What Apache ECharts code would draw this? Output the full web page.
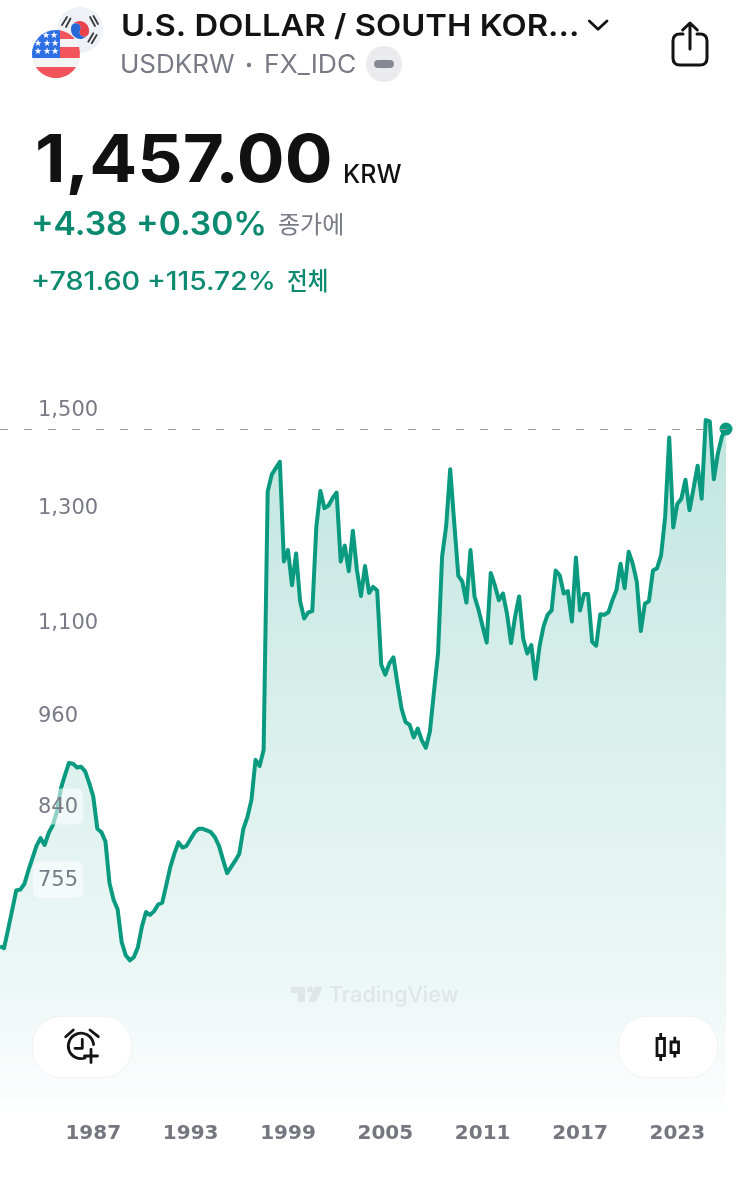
<!DOCTYPE html>
<html><head><meta charset="utf-8">
<style>html,body{margin:0;padding:0;background:#fff}#c{width:749px;height:1183px}</style>
<script src="https://cdn.jsdelivr.net/npm/echarts@6/dist/echarts.min.js"></script>
</head><body><div id="c"></div>
<script>
const firstYear = 1981, firstQuarter = 2;
const prices = [685,683,702,722,743,744,750,765,779,793,802,794,808,817,833,862,879,895,894,889,
890,884,869,852,813,809,798,751,733,723,689,676,671,674,684,705,720,717,721,728,
730,749,769,784,797,791,793,801,809,813,813,811,809,803,793,777,762,769,776,784,
813,827,848,899,891,912,1330,1363,1376,1389,1201,1221,1160,1215,1133,1105,1115,1117,1264,1331,
1298,1303,1317,1328,1201,1229,1184,1256,1186,1142,1193,1147,1157,1151,1033,1018,1035,1044,1005,969,
950,946,929,941,925,915,937,993,1050,1209,1264,1374,1270,1176,1166,1131,1221,1141,1119,1092,
1067,1181,1160,1135,1146,1113,1066,1108,1141,1073,1050,1063,1012,1060,1092,1111,1118,1185,1177,1146,
1150,1100,1208,1118,1145,1145,1068,1062,1112,1111,1115,1135,1152,1197,1155,1218,1197,1166,1085,1129,
1133,1185,1189,1212,1282,1439,1262,1306,1316,1353,1294,1336,1381,1316,1476,1473,1354,1406,1441,1457];
const categories = [];
for (let i = 0, y = firstYear, q = firstQuarter; i < prices.length; i++) {
  categories.push(y + ' Q' + q);
  if (++q > 4) { q = 1; y++; }
}
const yearTicks = ['1987','1993','1999','2005','2011','2017','2023'];
const priceTicks = [1500,1300,1100,960,840,755];
const lastPrice = 1457;
const axisMin = 537, axisMax = 1659;

const GREEN='#0a9a80', TXT_GREEN='#0b8a70', GRAY='#787b86', INK='#131313';
const F='Inter, "Noto Sans CJK KR", sans-serif';
let shapeId=0;
function txt(text,x,y,font,fill,sx,z){return {type:'text',x:x,y:y,scaleX:sx||1,z:z||20,style:{text,x:0,y:0,font:font+' '+F,fill,verticalAlign:'middle',align:'left'}};}
function p(d,style,z){
  const name='svgp'+(shapeId++);
  echarts.graphic.registerShape(name,echarts.graphic.extendPath(d,{}));
  return {type:name,z:z||20,style:Object.assign({fill:'none',stroke:'none'},style)};
}
function line(d,w,c,z){return p(d,{stroke:c||'#131313',lineWidth:w||3,lineCap:'round',lineJoin:'round'},z);}
const RED='#f2545b', BLUE='#2f6fe4';
const graphics=[
  {type:'circle',z:20,shape:{cx:80,cy:30,r:23},style:{fill:'#eef1f8'}},
  p('M71.8 25.25 A9.5 9.5 0 0 1 88.2 34.75 A4.75 4.75 0 0 1 80 30 A4.75 4.75 0 0 0 71.8 25.25 Z',{fill:'#e9434c'},21),
  p('M71.8 25.25 A4.75 4.75 0 0 1 80 30 A4.75 4.75 0 0 0 88.2 34.75 A9.5 9.5 0 0 1 71.8 25.25 Z',{fill:'#2467d6'},21),
  line('M62 25 L67 17 M66 27 L70.5 18.5 M90 17 L95 26 M93.5 16 L98 24 M88.3 41.7 L93.3 33.3 M91.7 43.3 L96.7 35',1.8,'#3a3a3a',21),
  {type:'circle',z:22,shape:{cx:56,cy:54,r:24},style:{fill:'#f3f4f6'}},
  p('M35.8 67 A24 24 0 0 0 76.2 67 Z',{fill:RED},23),
  p('M60 47 L79 47 A24 24 0 0 1 79.7 58 L60 58 Z',{fill:RED},23),
  p('M60 30.3 A24 24 0 0 1 74.7 39 L60 39 Z',{fill:RED},23),
  p('M60 30.3 A24 24 0 0 0 32.3 58 L60 58 Z',{fill:BLUE},23)
];
[[46,36],[54,36],[38,44],[47,44],[55,44],[38,52],[47,52],[55,52]].forEach(s=>{
  graphics.push({type:'text',z:24,style:{text:'★',x:s[0],y:s[1],font:'9px "DejaVu Sans"',fill:'#fff',align:'center',verticalAlign:'middle'}});
});
graphics.push(
  txt('U.S. DOLLAR / SOUTH KOR...',121,27,'600 30px',INK,1.093),
  line('M589.3 21 L598 29.3 L607 21',2.8),
  line('M683 34 L680 34 Q673 34 673 41 L673 58 Q673 65 680 65 L700 65 Q707 65 707 58 L707 41 Q707 34 700 34 L697 34',3),
  line('M690 49 L690 23 M682.7 30 L690 23 L697.3 30',3),
  txt('USDKRW',120,65,'400 25px','#787b86',1.04),
  {type:'circle',z:20,shape:{cx:249,cy:65,r:2.2},style:{fill:'#787b86'}},
  txt('FX_IDC',264,65,'400 25px','#787b86',1.06),
  {type:'circle',z:20,shape:{cx:384,cy:64,r:18},style:{fill:'#ebebed'}},
  {type:'rect',z:21,shape:{x:374,y:60,width:20,height:8,r:4},style:{fill:'#868994'}},
  txt('1,457.00',35,162,'700 66px','#111',1.076),
  txt('KRW',343,175,'500 25px','#111'),
  txt('+4.38 +0.30%',31,225,'600 32px',TXT_GREEN,1.05),
  txt('종가에',278,226,'400 24px','#787b86'),
  txt('+781.60',31,282,'500 25px',TXT_GREEN,1.15),
  txt('+115.72%',147,282,'500 25px',TXT_GREEN,1.13),
  txt('전체',287,282,'500 25px',TXT_GREEN,0.9),
  p('M290.7 986.7 L305 986.7 L305 1001.7 L298 1001.7 L298 993 L290.7 993 Z M315 986.7 L322.7 986.7 L316 1001.7 L308.3 1001.7 Z',{fill:'#dfe6e6'},5),
  {type:'circle',z:5,shape:{cx:310,cy:989.5,r:3},style:{fill:'#dfe6e6'}},
  txt('TradingView',329,995,'500 21.6px','#dfe6e6',1,5),
  {type:'rect',z:20,shape:{x:32.5,y:1016.5,width:99,height:61,r:28},style:{fill:'#fff',stroke:'#f1f2f3',lineWidth:1}},
  {type:'rect',z:20,shape:{x:618.5,y:1016.5,width:99,height:61,r:28},style:{fill:'#fff',stroke:'#f1f2f3',lineWidth:1}},
  line('M85 1058 A12.7 12.7 0 1 1 93.6 1044.5',2.8,'#131313',21),
  line('M82.3 1039.5 L82.3 1048.3 L75 1048.3 M65.7 1036.7 L73.3 1030 M90 1030 L98.3 1036.7 M91 1049.5 L91 1062.5 M84.5 1056 L97.5 1056',2.8,'#131313',21),
  {type:'rect',z:21,shape:{x:657,y:1038.5,width:7.5,height:17},style:{fill:'#fff',stroke:'#131313',lineWidth:2.8}},
  {type:'rect',z:21,shape:{x:671,y:1042,width:7.5,height:10.5},style:{fill:'#fff',stroke:'#131313',lineWidth:2.8}},
  p('M660.7 1033 L660.7 1038.5 M660.7 1055.5 L660.7 1061 M674.8 1036.7 L674.8 1042 M674.8 1052.5 L674.8 1057.5',{stroke:'#131313',lineWidth:2.8},21)
);

const chart=echarts.init(document.getElementById('c'),null,{renderer:'canvas'});
chart.setOption({
  animation:false,
  backgroundColor:'#fff',
  grid:{left:0,right:23,top:340,bottom:70,containLabel:false},
  xAxis:{type:'category',data:categories,boundaryGap:false,
    axisLine:{show:false},axisTick:{show:false},splitLine:{show:false},
    axisLabel:{interval:(i,n)=>n.endsWith('Q1')&&yearTicks.includes(n.slice(0,4)),
      formatter:n=>n.slice(0,4),hideOverlap:false,margin:11,
      color:'#74777f',fontFamily:'"DejaVu Sans"',fontWeight:'bold',fontSize:20}},
  yAxis:{type:'log',min:axisMin,max:axisMax,z:10,
    axisLine:{show:false},axisTick:{show:false},splitLine:{show:false},
    axisLabel:{inside:true,margin:33,customValues:priceTicks,
      formatter:v=>'{a|'+Math.round(v).toLocaleString('en-US')+'}',
      rich:{a:{color:GRAY,fontFamily:'"DejaVu Sans"',fontSize:21,padding:[3,0,0,0]}},
      align:'left',backgroundColor:'rgba(255,255,255,0.55)',borderRadius:6,padding:[6,5]}},
  series:[
    {type:'line',data:prices,symbol:'none',z:3,
      lineStyle:{color:GREEN,width:4,join:'round'},
      areaStyle:{opacity:1,color:new echarts.graphic.LinearGradient(0,0,0,1,[
        {offset:0,color:'rgba(8,153,129,0.25)'},
        {offset:0.4,color:'rgba(8,153,129,0.16)'},
        {offset:0.84,color:'rgba(8,153,129,0.065)'},
        {offset:1,color:'rgba(8,153,129,0.005)'}])},
      markLine:{silent:true,symbol:'none',label:{show:false},
        lineStyle:{color:'#9a9a9a',type:[8,16],width:1.2},data:[{yAxis:lastPrice}],animation:false}},
    {type:'scatter',data:[[categories[categories.length-1],lastPrice]],symbol:'circle',symbolSize:13,z:4,
      itemStyle:{color:GREEN,opacity:1},clip:false}
  ],
  graphic:graphics
});
</script></body></html>
